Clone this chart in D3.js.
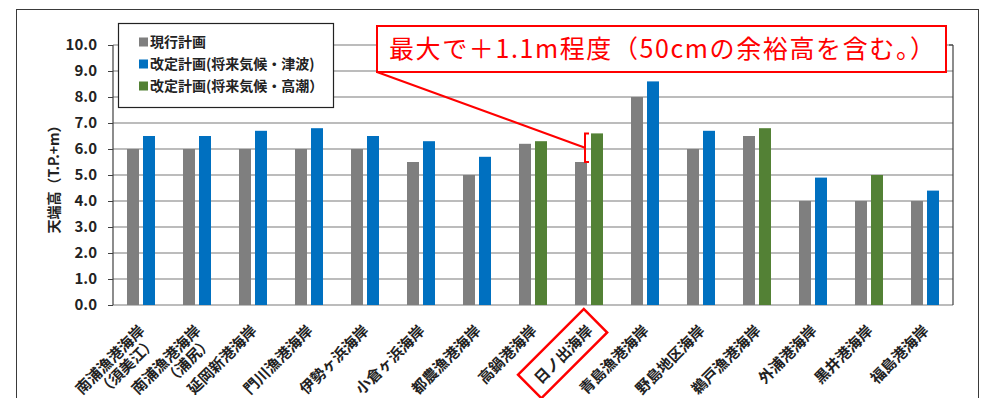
<!DOCTYPE html>
<html>
<head>
<meta charset="utf-8">
<script src="https://cdn.jsdelivr.net/npm/d3@7"></script>
<style>
  html, body { margin: 0; padding: 0; background: #fff; }
  svg { display: block; font-family: "Noto Sans CJK JP", "Noto Sans", sans-serif; }
</style>
</head>
<body>
<svg id="chart" width="982" height="398"></svg>
<script>
// 海岸ごとの天端高（T.P.+m）
const categories = [
  "南浦漁港海岸", "南浦漁港海岸", "延岡新港海岸", "門川漁港海岸", "伊勢ヶ浜海岸",
  "小倉ヶ浜海岸", "都農漁港海岸", "高鍋港海岸", "日ノ出海岸", "青島漁港海岸",
  "野島地区海岸", "鵜戸漁港海岸", "外浦港海岸", "黒井港海岸", "福島港海岸"
];
const subLabels = ["（須美江）", "（浦尻）", "", "", "", "", "", "", "", "", "", "", "", "", ""];
const currentPlan = [6.0, 6.0, 6.0, 6.0, 6.0, 5.5, 5.0, 6.2, 5.5, 8.0, 6.0, 6.5, 4.0, 4.0, 4.0];
const revisedPlan = [6.5, 6.5, 6.7, 6.8, 6.5, 6.3, 5.7, 6.3, 6.6, 8.6, 6.7, 6.8, 4.9, 5.0, 4.4];
// 改定計画の基準となる外力（津波 / 高潮）
const revisedBasis = ["津波", "津波", "津波", "津波", "津波", "津波", "津波", "高潮", "高潮", "津波",
                      "津波", "高潮", "津波", "高潮", "津波"];
const yTicks = [0, 1, 2, 3, 4, 5, 6, 7, 8, 9, 10];
const legendLabels = ["現行計画", "改定計画(将来気候・津波)", "改定計画(将来気候・高潮）"];
const highlightIndex = 8;
const noteText = "最大で＋1.1m程度（50cmの余裕高を含む。）";

const colors = { current: "#7f7f7f", "津波": "#0070c0", "高潮": "#538135" };

const svg = d3.select("#chart");
const plot = { left: 113, right: 953, top: 45, bottom: 305 };

// outer frame
svg.append("rect")
  .attr("x", 16.5).attr("y", 9.5).attr("width", 962).attr("height", 400)
  .attr("fill", "none").attr("stroke", "#3a3a3a").attr("stroke-width", 1);

const x = d3.scaleBand().domain(d3.range(categories.length))
  .range([plot.left, plot.right]).paddingInner(0).paddingOuter(0);
const x1 = d3.scaleBand().domain(["current", "revised"])
  .range([14, 42]).paddingInner(0.25).paddingOuter(0);
const y = d3.scaleLinear().domain([0, 10]).range([plot.bottom, plot.top]);

// gridlines
svg.append("g").selectAll("line").data(yTicks).join("line")
  .attr("x1", plot.left).attr("x2", plot.right)
  .attr("y1", d => y(d)).attr("y2", d => y(d))
  .attr("stroke", "#a6a6a6").attr("stroke-width", 1.5);

// plot area side borders
svg.append("line").attr("x1", plot.left).attr("x2", plot.left)
  .attr("y1", plot.top).attr("y2", plot.bottom).attr("stroke", "#404040").attr("stroke-width", 1.2);
svg.append("line").attr("x1", plot.right).attr("x2", plot.right)
  .attr("y1", plot.top).attr("y2", plot.bottom).attr("stroke", "#404040").attr("stroke-width", 1.2);
svg.append("line").attr("x1", plot.right - 4).attr("x2", plot.right)
  .attr("y1", plot.top).attr("y2", plot.top).attr("stroke", "#404040").attr("stroke-width", 1.2);

// y axis
const yAxis = d3.axisLeft(y).tickValues(yTicks).tickFormat(d3.format(".1f")).tickSize(5).tickPadding(11);
const gy = svg.append("g").attr("transform", `translate(${plot.left},0)`).call(yAxis);
gy.select(".domain").remove();
gy.selectAll(".tick line").attr("stroke", "#404040");
gy.selectAll(".tick text").attr("fill", "#222").attr("font-size", 15).attr("font-weight", "bold")
  .attr("font-family", "\"Noto Sans CJK JP\", sans-serif");

// y axis title
svg.append("text")
  .attr("transform", "translate(59,176) rotate(-90)")
  .attr("text-anchor", "middle")
  .attr("font-size", 14).attr("font-weight", "bold").attr("fill", "#222")
  .text("天端高（T.P.+m）");

// bars
const groups = svg.append("g").selectAll("g").data(categories.map((c, i) => i)).join("g")
  .attr("transform", i => `translate(${x(i)},0)`);
groups.append("rect")
  .attr("x", x1("current")).attr("width", x1.bandwidth())
  .attr("y", i => y(currentPlan[i])).attr("height", i => y(0) - y(currentPlan[i]))
  .attr("fill", colors.current);
groups.append("rect")
  .attr("x", x1("revised")).attr("width", x1.bandwidth())
  .attr("y", i => y(revisedPlan[i])).attr("height", i => y(0) - y(revisedPlan[i]))
  .attr("fill", i => colors[revisedBasis[i]]);

// category labels
const labelG = svg.append("g").selectAll("g").data(categories.map((c, i) => i)).join("g")
  .attr("transform", i => `translate(${x(i) + x.bandwidth() / 2 + 1},${plot.bottom + 23}) rotate(-45)`);
const labelText = labelG.append("text")
  .attr("text-anchor", "end")
  .attr("font-size", 15).attr("font-weight", "bold").attr("fill", "#222");
labelText.append("tspan").attr("x", 0).attr("dy", "0.35em").text(i => categories[i]);
labelText.filter(i => subLabels[i] !== "").append("tspan")
  .attr("x", 0).attr("dy", "1.1em").text(i => subLabels[i]);

// highlight frame around one label
labelG.filter(i => i === highlightIndex).each(function () {
  const g = d3.select(this);
  const bb = g.select("text").node().getBBox();
  g.append("rect")
    .attr("x", bb.x - 9).attr("y", bb.y - 6)
    .attr("width", bb.width + 18).attr("height", bb.height + 12)
    .attr("fill", "none").attr("stroke", "#ff0000").attr("stroke-width", 2.5);
});

// legend
const legend = svg.append("g");
legend.append("rect").attr("x", 118.5).attr("y", 23.5).attr("width", 215).attr("height", 84)
  .attr("fill", "#fff").attr("stroke", "#222").attr("stroke-width", 1.2);
const legendColors = [colors.current, colors["津波"], colors["高潮"]];
legendLabels.forEach((t, k) => {
  const cy = 42 + k * 22;
  legend.append("rect").attr("x", 139).attr("y", cy - 4.5).attr("width", 9).attr("height", 9)
    .attr("fill", legendColors[k]);
  legend.append("text").attr("x", 150).attr("y", cy).attr("dy", "0.36em")
    .attr("font-size", 14).attr("font-weight", "bold").attr("fill", "#222").text(t);
});

// callout for the largest increase
const hx = x(highlightIndex);
const bx = hx + x1("revised") - 2;
const yTop = y(revisedPlan[highlightIndex]);
const yLow = y(currentPlan[highlightIndex]);
svg.append("line")
  .attr("x1", 377).attr("y1", 72).attr("x2", bx - 4).attr("y2", (yTop + yLow) / 2)
  .attr("stroke", "#ff0000").attr("stroke-width", 2);
svg.append("path")
  .attr("d", `M${bx},${yTop} H${bx - 4} V${yLow} H${bx}`)
  .attr("fill", "none").attr("stroke", "#ff0000").attr("stroke-width", 2);

svg.append("rect").attr("x", 377).attr("y", 26).attr("width", 569).attr("height", 46)
  .attr("fill", "#fff").attr("stroke", "#ff0000").attr("stroke-width", 2);
svg.append("text").attr("x", 389).attr("y", 49).attr("dy", "0.36em")
  .attr("font-size", 25).attr("fill", "#ff0000")
  .attr("textLength", 546).attr("lengthAdjust", "spacing")
  .text(noteText);
</script>
</body>
</html>
